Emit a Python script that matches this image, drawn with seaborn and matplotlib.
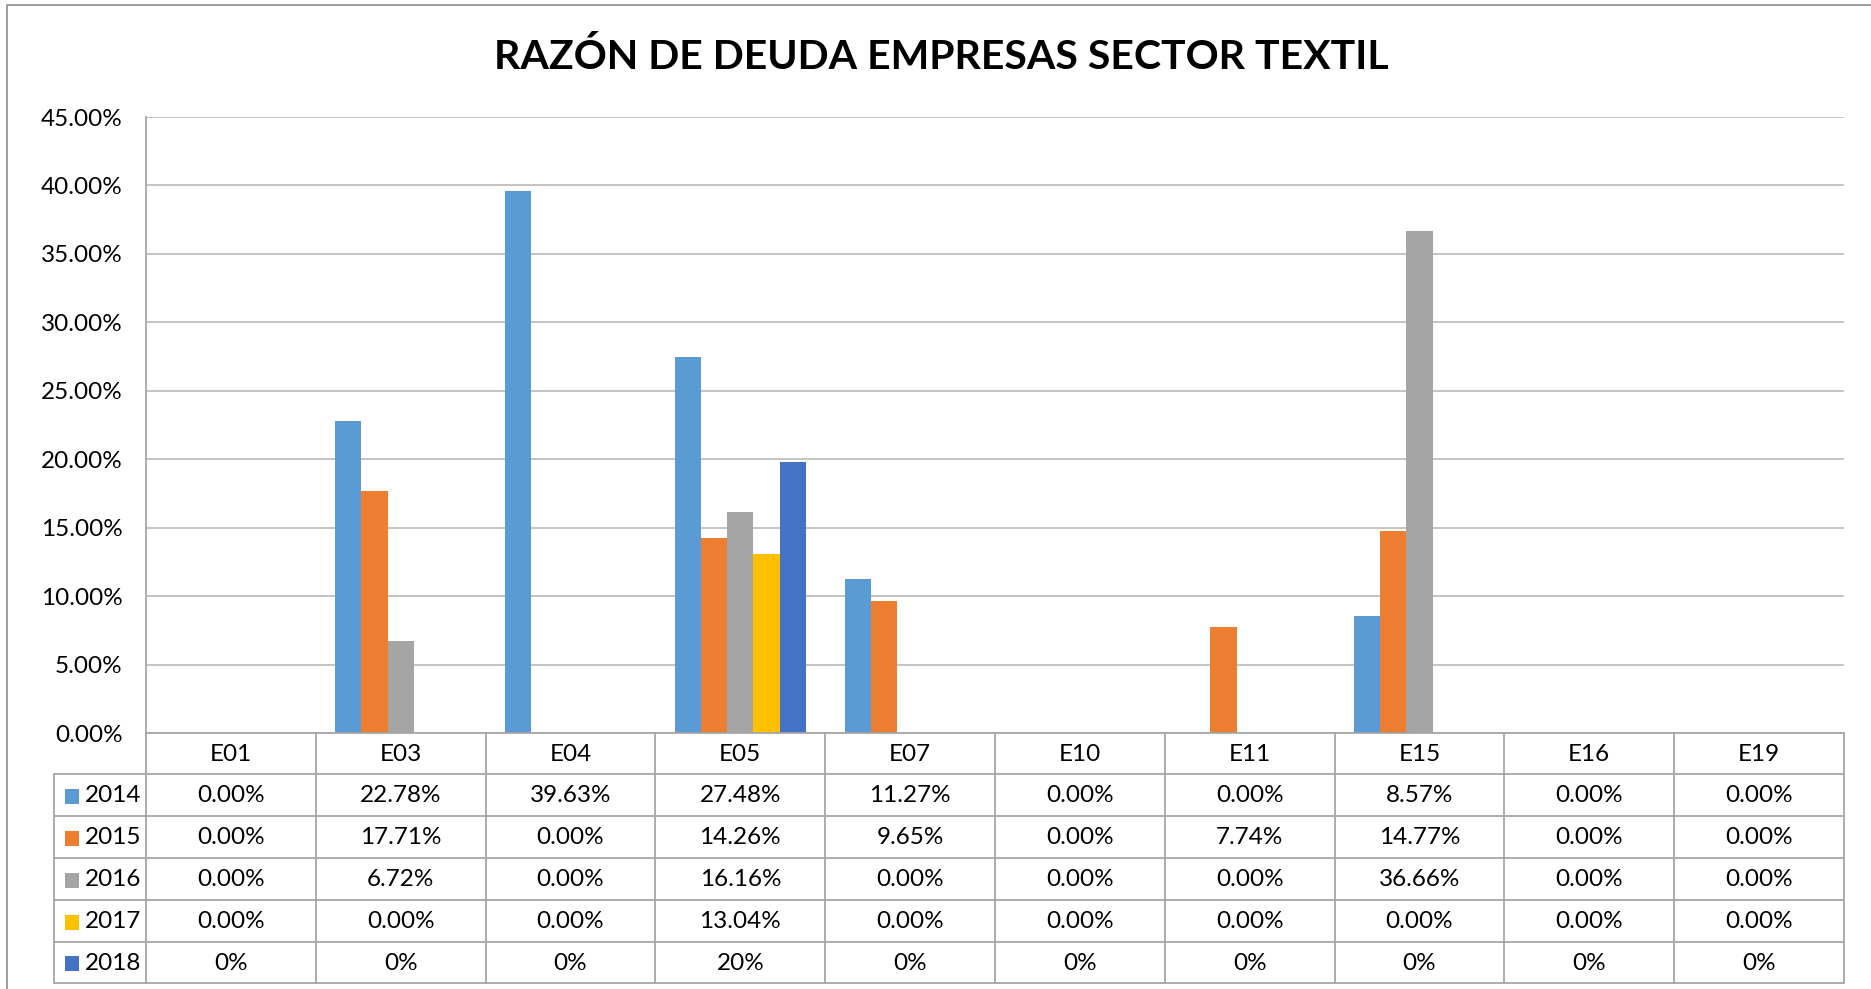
import pandas as pd
import seaborn as sns
import matplotlib.pyplot as plt
from matplotlib.lines import Line2D
from matplotlib.patches import Rectangle
from matplotlib.transforms import blended_transform_factory

# debt ratio of textile companies, one list per year (values in %)
companies = ["E01", "E03", "E04", "E05", "E07", "E10", "E11", "E15", "E16", "E19"]
years = ["2014", "2015", "2016", "2017", "2018"]
ratio_2014 = [0.00, 22.78, 39.63, 27.48, 11.27, 0.00, 0.00, 8.57, 0.00, 0.00]
ratio_2015 = [0.00, 17.71, 0.00, 14.26, 9.65, 0.00, 7.74, 14.77, 0.00, 0.00]
ratio_2016 = [0.00, 6.72, 0.00, 16.16, 0.00, 0.00, 0.00, 36.66, 0.00, 0.00]
ratio_2017 = [0.00, 0.00, 0.00, 13.04, 0.00, 0.00, 0.00, 0.00, 0.00, 0.00]
ratio_2018 = [0.00, 0.00, 0.00, 19.80, 0.00, 0.00, 0.00, 0.00, 0.00, 0.00]
year_formats = ["{:.2f}%", "{:.2f}%", "{:.2f}%", "{:.2f}%", "{:.0f}%"]
year_colors = ["#5B9BD5", "#ED7D31", "#A5A5A5", "#FFC000", "#4472C4"]
y_ticks = [0, 5, 10, 15, 20, 25, 30, 35, 40, 45]

series = [ratio_2014, ratio_2015, ratio_2016, ratio_2017, ratio_2018]
df = pd.DataFrame(
    [
        {"company": c, "year": y, "ratio": v}
        for y, vals in zip(years, series)
        for c, v in zip(companies, vals)
    ]
)

W, H = 1871, 989
FONT = "Lato"
TEXT_SIZE = 17.5
GRID = "#BFBFBF"
LINE = "#A6A6A6"

sns.set_style("white")
plt.rcParams["font.family"] = [FONT, "DejaVu Sans"]

fig = plt.figure(figsize=(W / 100, H / 100), dpi=100)
ax = fig.add_axes([146 / W, 1 - 733 / H, (1844 - 146) / W, (733 - 117) / H])

sns.barplot(
    data=df,
    x="company",
    y="ratio",
    hue="year",
    order=companies,
    hue_order=years,
    palette=year_colors,
    saturation=1,
    width=0.771,
    linewidth=0,
    legend=False,
    ax=ax,
)

ax.set_xlim(-0.5, len(companies) - 0.5)
ax.set_ylim(0, 45)
ax.set_yticks(y_ticks)
ax.set_yticklabels([f"{t:.2f}%" for t in y_ticks], fontsize=TEXT_SIZE, color="black")
ax.set_xticks([])
ax.set_xlabel("")
ax.set_ylabel("")
ax.tick_params(axis="y", length=0, pad=17)
ax.yaxis.grid(True, color=GRID, lw=1.3)
ax.set_axisbelow(True)
for side in ["top", "right"]:
    ax.spines[side].set_visible(False)
for side in ["left", "bottom"]:
    ax.spines[side].set_color(LINE)
    ax.spines[side].set_linewidth(1.3)

# title
fig.text(941 / W, 1 - 57 / H, "RAZÓN DE DEUDA EMPRESAS SECTOR TEXTIL",
         ha="center", va="center", fontsize=29.5, fontweight="bold", color="black")

# data table below the plot
tr = blended_transform_factory(ax.transData, fig.transFigure)
row_edges = [733, 774, 816, 858, 900, 942, 983]
legend_left = -0.5 - 92 / ((1844 - 146) / len(companies))
n = len(companies)


def fy(px):
    return 1 - px / H


for r in row_edges[1:]:
    fig.add_artist(Line2D([legend_left, n - 0.5], [fy(r), fy(r)], transform=tr,
                          color=LINE, lw=1.3))
for i in range(n + 1):
    fig.add_artist(Line2D([i - 0.5, i - 0.5], [fy(row_edges[0]), fy(row_edges[-1])],
                          transform=tr, color=LINE, lw=1.3))
fig.add_artist(Line2D([legend_left, legend_left], [fy(row_edges[1]), fy(row_edges[-1])],
                      transform=tr, color=LINE, lw=1.3))

head_mid = (row_edges[0] + row_edges[1]) / 2
for i, c in enumerate(companies):
    fig.text(i, fy(head_mid + 1), c, transform=tr, ha="center", va="center",
             fontsize=TEXT_SIZE, color="black")

for k, (y, vals, fmt, col) in enumerate(zip(years, series, year_formats, year_colors)):
    mid = (row_edges[k + 1] + row_edges[k + 2]) / 2 + 1
    fig.add_artist(Rectangle((65 / W, fy(mid + 7.5)), 14 / W, 15 / H,
                             transform=fig.transFigure, color=col, lw=0))
    fig.text(85 / W, fy(mid), y, ha="left", va="center",
             fontsize=TEXT_SIZE, color="black")
    for i, v in enumerate(vals):
        fig.text(i, fy(mid), fmt.format(v), transform=tr, ha="center", va="center",
                 fontsize=TEXT_SIZE, color="black")

# outer chart frame (only top and left edges are inside the picture)
fig.add_artist(Line2D([7 / W, 7 / W, 1], [0, fy(5), fy(5)], transform=fig.transFigure,
                      color="#8C8C8C", lw=1.2))

fig.savefig("out.png", dpi=100)
